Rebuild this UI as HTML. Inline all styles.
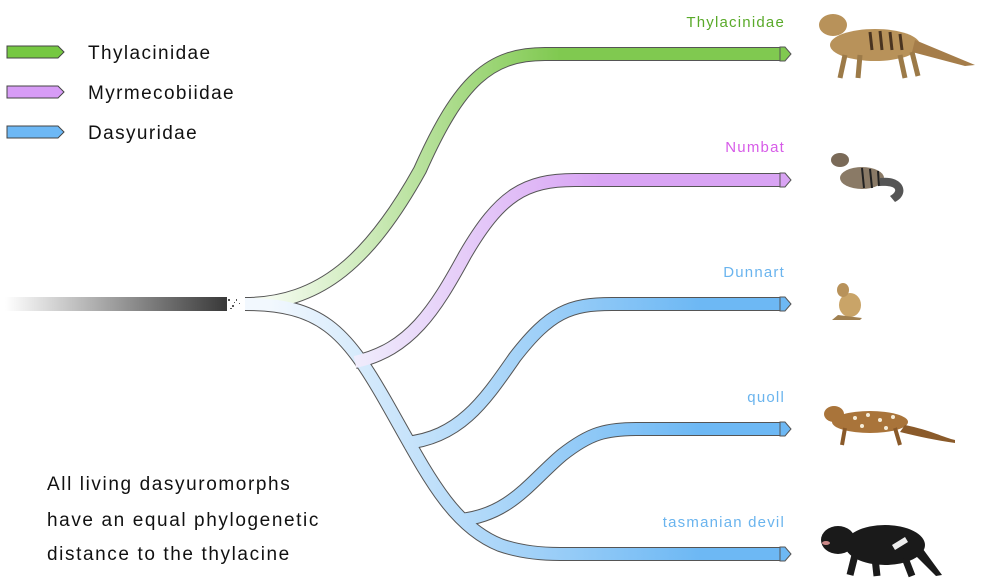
<!DOCTYPE html>
<html><head><meta charset="utf-8"><style>
body{margin:0;background:#fff;width:981px;height:585px;overflow:hidden;font-family:"Liberation Sans",sans-serif}
svg{position:absolute;left:0;top:0}
</style></head><body>
<svg width="981" height="585" viewBox="0 0 981 585">
<defs>
<linearGradient id="root" x1="5" y1="0" x2="225" y2="0" gradientUnits="userSpaceOnUse"><stop offset="0" stop-color="#fff"/><stop offset="1" stop-color="#3a3a3a"/></linearGradient>
<linearGradient id="gG" x1="270" y1="0" x2="560" y2="0" gradientUnits="userSpaceOnUse"><stop offset="0" stop-color="#f4fbef"/><stop offset="1" stop-color="#80c950"/></linearGradient>
<linearGradient id="gP" x1="350" y1="0" x2="600" y2="0" gradientUnits="userSpaceOnUse"><stop offset="0" stop-color="#f0eefc"/><stop offset="1" stop-color="#d9a4f4"/></linearGradient>
<linearGradient id="gB" x1="270" y1="0" x2="700" y2="0" gradientUnits="userSpaceOnUse"><stop offset="0" stop-color="#f2f8fe"/><stop offset="1" stop-color="#6db8f4"/></linearGradient>
</defs>
<g stroke="#444" stroke-width="1">
<path d="M7,46 H58 L64,52 L58,58 H7Z" fill="#76c842"/>
<path d="M7,86 H58 L64,92 L58,98 H7Z" fill="#d79cf6"/>
<path d="M7,126 H58 L64,132 L58,138 H7Z" fill="#6db8f5"/>
</g>
<g font-size="19" fill="#111" letter-spacing="1.4">
<text x="88" y="59">Thylacinidae</text>
<text x="88" y="99">Myrmecobiidae</text>
<text x="88" y="139">Dasyuridae</text>
</g>
<rect x="5" y="297" width="222" height="14" fill="url(#root)"/>
<g fill="#555"><rect x="228" y="299" width="2" height="2"/><rect x="232" y="305" width="2" height="2"/><rect x="236" y="299" width="1" height="2"/><rect x="230" y="308" width="2" height="1"/><rect x="239" y="303" width="1" height="1"/><rect x="234" y="302" width="1" height="1"/></g>
<g fill="none" stroke="#555" stroke-width="14">
<path d="M245,304 C320,304 370,260 420,170 C460,80 490,54 545,54 L782,54"/>
<path d="M245,304 C320,304 345,330 385,400 C425,470 450,525 500,545 C520,552 540,554 560,554 L782,554"/>
<path d="M355,362 C410,350 435,310 465,255 C500,195 525,180 575,180 L782,180"/>
<path d="M405,443 C460,438 485,400 515,357 C550,312 570,304 612,304 L782,304"/>
<path d="M460,520 C510,515 530,482 562,455 C590,433 605,429 640,429 L782,429"/>
</g>
<g fill="none" stroke-width="12">
<path d="M245,304 C320,304 370,260 420,170 C460,80 490,54 545,54 L782,54" stroke="url(#gG)"/>
<path d="M245,304 C320,304 345,330 385,400 C425,470 450,525 500,545 C520,552 540,554 560,554 L782,554" stroke="url(#gB)"/>
<path d="M355,362 C410,350 435,310 465,255 C500,195 525,180 575,180 L782,180" stroke="url(#gP)"/>
<path d="M405,443 C460,438 485,400 515,357 C550,312 570,304 612,304 L782,304" stroke="url(#gB)"/>
<path d="M460,520 C510,515 530,482 562,455 C590,433 605,429 640,429 L782,429" stroke="url(#gB)"/>
</g>
<g stroke="#555" stroke-width="1">
<path d="M780,47 L785,47 L791,54 L785,61 L780,61Z" fill="#80c950"/>
<path d="M780,173 L785,173 L791,180 L785,187 L780,187Z" fill="#d9a4f4"/>
<path d="M780,297 L785,297 L791,304 L785,311 L780,311Z" fill="#6db8f4"/>
<path d="M780,422 L785,422 L791,429 L785,436 L780,436Z" fill="#6db8f4"/>
<path d="M780,547 L785,547 L791,554 L785,561 L780,561Z" fill="#6db8f4"/>
</g>
<g font-size="15" text-anchor="end" letter-spacing="1.2">
<text x="785" y="27" fill="#5aaa2a">Thylacinidae</text>
<text x="785" y="152" fill="#d75ce8">Numbat</text>
<text x="785" y="277" fill="#6ab4ee">Dunnart</text>
<text x="785" y="402" fill="#6ab4ee">quoll</text>
<text x="785" y="527" fill="#6ab4ee">tasmanian devil</text>
</g>
<g font-size="19" fill="#111" letter-spacing="1.6">
<text x="47" y="490">All living dasyuromorphs</text>
<text x="47" y="526">have an equal phylogenetic</text>
<text x="47" y="560">distance to the thylacine</text>
</g>
<g>
<ellipse cx="875" cy="45" rx="45" ry="16" fill="#b8925a"/>
<ellipse cx="833" cy="25" rx="14" ry="11" fill="#b8925a"/>
<path d="M915,40 L975,65 L965,66 L912,52Z" fill="#a57d4a"/>
<g stroke="#9c7a48" stroke-width="5"><line x1="845" y1="55" x2="840" y2="78"/><line x1="860" y1="55" x2="858" y2="78"/><line x1="900" y1="55" x2="905" y2="78"/><line x1="912" y1="52" x2="918" y2="76"/></g>
<g stroke="#4a3420" stroke-width="3"><line x1="870" y1="32" x2="872" y2="50"/><line x1="880" y1="31" x2="882" y2="50"/><line x1="890" y1="32" x2="892" y2="50"/><line x1="900" y1="34" x2="902" y2="50"/></g>
<ellipse cx="862" cy="178" rx="22" ry="11" fill="#8a7a66"/>
<ellipse cx="840" cy="160" rx="9" ry="7" fill="#7a6a58"/>
<path d="M880,178 C905,175 910,195 895,202 L890,196 C900,190 895,185 880,186Z" fill="#555"/>
<g stroke="#222" stroke-width="2"><line x1="862" y1="168" x2="864" y2="188"/><line x1="870" y1="169" x2="872" y2="188"/><line x1="878" y1="171" x2="879" y2="186"/></g>
<ellipse cx="850" cy="305" rx="11" ry="12" fill="#c9a468"/>
<ellipse cx="843" cy="290" rx="6" ry="7" fill="#b8925a"/>
<path d="M838,315 L862,318 L860,320 L832,320Z" fill="#a08050"/>
<ellipse cx="870" cy="422" rx="38" ry="11" fill="#a9743a"/>
<ellipse cx="834" cy="414" rx="10" ry="8" fill="#a9743a"/>
<path d="M905,425 C930,430 945,438 955,440 L955,443 C935,440 920,437 900,432Z" fill="#8a5a2a"/>
<g fill="#f5ecd8"><circle cx="855" cy="418" r="2"/><circle cx="868" cy="415" r="2"/><circle cx="880" cy="420" r="2"/><circle cx="893" cy="417" r="2"/><circle cx="862" cy="426" r="2"/><circle cx="886" cy="428" r="2"/></g>
<g stroke="#8a5a2a" stroke-width="4"><line x1="845" y1="428" x2="842" y2="445"/><line x1="895" y1="428" x2="900" y2="445"/></g>
<ellipse cx="885" cy="545" rx="40" ry="20" fill="#1a1a1a"/>
<ellipse cx="838" cy="540" rx="17" ry="14" fill="#1a1a1a"/>
<path d="M920,545 L942,575 L936,576 L915,555Z" fill="#1a1a1a"/>
<g stroke="#1a1a1a" stroke-width="7"><line x1="855" y1="555" x2="850" y2="575"/><line x1="875" y1="558" x2="877" y2="576"/><line x1="905" y1="558" x2="912" y2="576"/></g>
<path d="M892,545 L905,537 L908,542 L895,550Z" fill="#eee"/>
<ellipse cx="826" cy="543" rx="4" ry="2" fill="#c88"/>
</g>
</svg>
</body></html>
